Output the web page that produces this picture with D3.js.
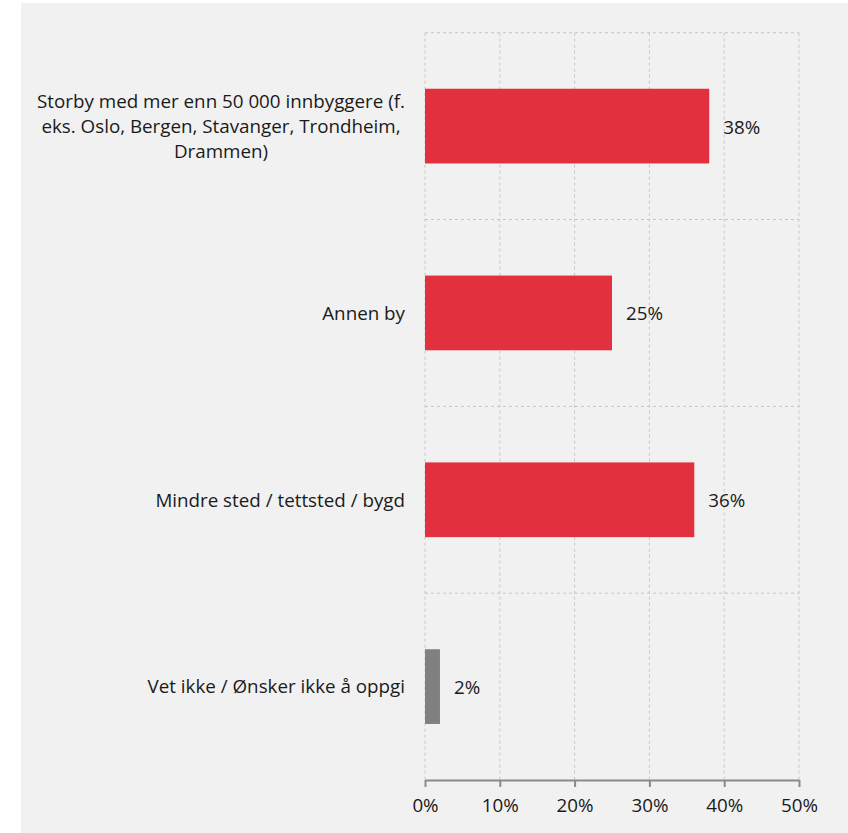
<!DOCTYPE html>
<html>
<head>
<meta charset="utf-8">
<script src="https://cdn.jsdelivr.net/npm/d3@7"></script>
<style>
  body { margin: 0; background: #fff; }
  text { font-family: "Open Sans", sans-serif; fill: #1a1a1a; }
</style>
</head>
<body>
<svg id="chart"></svg>
<script>
// Data
const categories = [
  "Storby med mer enn 50 000 innbyggere (f.|eks. Oslo, Bergen, Stavanger, Trondheim,|Drammen)",
  "Annen by",
  "Mindre sted / tettsted / bygd",
  "Vet ikke / Ønsker ikke å oppgi"
];
const values = [38, 25, 36, 2];
const barColors = ["#e3303f", "#e3303f", "#e3303f", "#808080"];
const xTicks = [0, 10, 20, 30, 40, 50];

const W = 848, H = 833;
const margin = {top: 32.7, right: 49, bottom: 53, left: 425};
const width = W - margin.left - margin.right,
      height = H - margin.top - margin.bottom;
const fs = "18.8px";

const root = d3.select("#chart").attr("width", W).attr("height", H);

// Panel background
root.append("rect")
  .attr("x", 21).attr("y", 3)
  .attr("width", W - 21).attr("height", H - 3)
  .attr("fill", "#f1f1f1");

const svg = root.append("g")
  .attr("transform", `translate(${margin.left},${margin.top})`);

const x = d3.scaleLinear().domain([0, 50]).range([0, width]);
const y = d3.scaleBand()
  .domain(categories)
  .range([0, height])
  .paddingInner(0.6)
  .paddingOuter(0.3);

const step = y.step();

// Vertical gridlines
svg.selectAll(".vgrid")
  .data(xTicks)
  .join("line")
  .attr("x1", d => x(d)).attr("x2", d => x(d))
  .attr("y1", 0).attr("y2", height)
  .attr("stroke", "#c6c6c6")
  .attr("stroke-dasharray", "3,3");

// Horizontal separators
svg.selectAll(".hgrid")
  .data(d3.range(categories.length))
  .join("line")
  .attr("x1", 0).attr("x2", width)
  .attr("y1", d => d * step).attr("y2", d => d * step)
  .attr("stroke", "#c6c6c6")
  .attr("stroke-dasharray", "3,3");

// X axis
const xAxis = svg.append("g")
  .attr("transform", `translate(0,${height})`)
  .call(d3.axisBottom(x).tickValues(xTicks).tickFormat(d => d + "%").tickSize(7).tickSizeOuter(0));
xAxis.select(".domain").attr("stroke", "#8a8a8a").attr("stroke-width", 2);
xAxis.selectAll(".tick line").attr("stroke", "#8a8a8a").attr("stroke-width", 2);
xAxis.selectAll(".tick text")
  .attr("dy", null).attr("y", 32)
  .style("font-size", fs)
  .style("font-family", "'Open Sans', sans-serif")
  .attr("fill", "#1a1a1a");

// Bars
svg.selectAll(".bar")
  .data(values)
  .join("rect")
  .attr("x", x(0))
  .attr("y", (d, i) => y(categories[i]))
  .attr("width", d => x(d) - x(0))
  .attr("height", y.bandwidth())
  .attr("fill", (d, i) => barColors[i]);

// Value labels
svg.selectAll(".val")
  .data(values)
  .join("text")
  .attr("x", d => x(d) + 14)
  .attr("y", (d, i) => y(categories[i]) + y.bandwidth() / 2)
  .attr("dy", "0.4em")
  .style("font-size", fs)
  .text(d => d + "%");

// Category labels
const labelRight = -20;
categories.forEach(c => {
  const lines = c.split("|");
  const cy = y(c) + y.bandwidth() / 2;
  const lh = 25;
  const t = svg.append("text")
    .style("font-size", fs);
  lines.forEach((l, i) => {
    t.append("tspan")
      .attr("y", cy + (i - (lines.length - 1) / 2) * lh)
      .attr("dy", "0.36em")
      .text(l);
  });
  if (lines.length === 1) {
    t.attr("text-anchor", "end").selectAll("tspan").attr("x", labelRight);
  } else {
    const maxW = d3.max(t.selectAll("tspan").nodes(), n => n.getComputedTextLength());
    t.attr("text-anchor", "middle").selectAll("tspan").attr("x", labelRight - maxW / 2);
  }
});
</script>
</body>
</html>
